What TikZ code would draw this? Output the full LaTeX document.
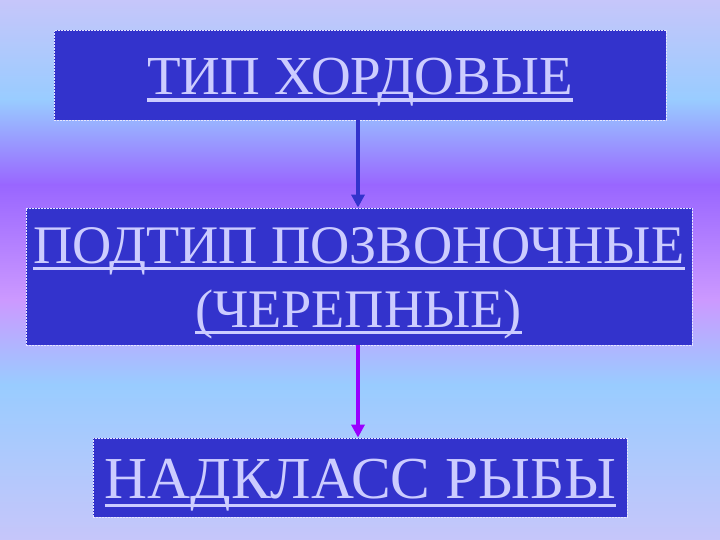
\documentclass[tikz,border=0pt]{standalone}
\usepackage{fontspec}
\setmainfont{Liberation Serif}
\usetikzlibrary{arrows.meta}
\definecolor{bgA}{HTML}{C6C6FA}
\definecolor{bgB}{HTML}{99CCFF}
\definecolor{bgC}{HTML}{9966FF}
\definecolor{bgD}{HTML}{CC99FF}
\definecolor{boxblue}{HTML}{3333CC}
\definecolor{boxedge}{HTML}{E6E6FF}
\definecolor{txt}{HTML}{CCCCFF}
\definecolor{arrblue}{HTML}{3333CC}
\definecolor{arrpurple}{HTML}{9900FF}
\newcommand\ulx[2][-7pt]{\setbox0\hbox{#2}\rlap{\rule[#1]{\wd0}{3.5pt}}\box0}
\tikzset{
  box/.style={fill=boxblue, draw=boxedge, line width=0.8pt, dash pattern=on 2pt off 1pt, inner sep=0pt},
  lbl/.style={text=txt, anchor=base, inner sep=0pt, font=\fontsize{55}{65}\selectfont},
  arr/.style={line width=3.5pt, -{Triangle[length=13pt,width=13pt]}}
}
\begin{document}
\begin{tikzpicture}[x=1pt,y=-1pt]
\useasboundingbox (0,0) rectangle (720,540);
\shade[top color=bgA, bottom color=bgB] (0,0) rectangle (720,100);
\shade[top color=bgB, bottom color=bgC] (0,99.5) rectangle (720,185);
\shade[top color=bgC, bottom color=bgD] (0,184.5) rectangle (720,300);
\shade[top color=bgD, bottom color=bgB] (0,299.5) rectangle (720,385);
\shade[top color=bgB, bottom color=bgA] (0,384.5) rectangle (720,540);
\node[box, minimum width=612pt, minimum height=90pt] (b1) at (360,75) {};
\node[box, minimum width=666pt, minimum height=137pt] (b2) at (359,276.5) {};
\node[box, minimum width=534pt, minimum height=79pt] (b3) at (360,477.5) {};
\node[lbl] (t1) at (360,95) {\ulx{ТИП ХОРДОВЫЕ}};
\node[lbl, font=\fontsize{54.3}{65}\selectfont] (t2a) at (359,263) {\ulx{ПОДТИП ПОЗВОНОЧНЫЕ}};
\node[lbl, font=\fontsize{54.3}{65}\selectfont] (t2b) at (358.5,327) {\ulx{(ЧЕРЕПНЫЕ)}};
\node[lbl, font=\fontsize{59.5}{70}\selectfont] (t3) at (360.5,498) {\ulx[-9pt]{НАДКЛАСС РЫБЫ}};
\draw[arr, arrblue] ([xshift=-2pt]b1.south) -- ([xshift=-1pt]b2.north);
\draw[arr, arrpurple] ([xshift=-1pt]b2.south) -- ([xshift=-2pt]b3.north);
\end{tikzpicture}
\end{document}
